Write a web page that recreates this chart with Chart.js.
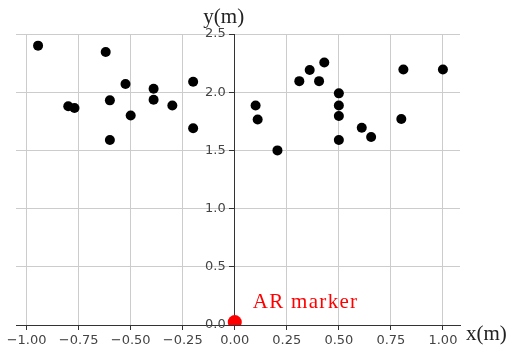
<!DOCTYPE html>
<html>
<head>
<meta charset="utf-8">
<script src="https://cdn.jsdelivr.net/npm/chart.js@4.4.0/dist/chart.umd.min.js"></script>
<style>
  html, body { margin: 0; padding: 0; background: #ffffff; }
  #wrap { width: 510px; height: 351px; position: relative; }
</style>
</head>
<body>
<div id="wrap"><canvas id="c"></canvas></div>
<script>
// ---- data ----
const pointsX = [-0.945, -0.80, -0.77, -0.62, -0.60, -0.60, -0.525, -0.50, -0.39, -0.39, -0.30, -0.20, -0.20,
                 0.10, 0.11, 0.205, 0.31, 0.36, 0.405, 0.43, 0.50, 0.50, 0.50, 0.50, 0.61, 0.655, 0.81, 0.80, 1.00];
const pointsY = [2.40, 1.88, 1.865, 2.345, 1.93, 1.59, 2.07, 1.80, 2.03, 1.935, 1.885, 2.09, 1.69,
                 1.885, 1.765, 1.50, 2.095, 2.19, 2.095, 2.255, 1.99, 1.885, 1.795, 1.59, 1.695, 1.615, 2.195, 1.77, 2.195];
const markerX = [0.0];
const markerY = [0.025];
const markerLabel = 'AR marker';
const xTicks = [-1.00, -0.75, -0.50, -0.25, 0.00, 0.25, 0.50, 0.75, 1.00];
const yTicks = [0.0, 0.5, 1.0, 1.5, 2.0, 2.5];
const xTitle = 'x(m)';
const yTitle = 'y(m)';

const tickFont = { family: '"DejaVu Sans", sans-serif', size: 13 };
const tickColor = '#444444';
const gridColor = '#cccccc';
const axisColor = '#333333';

// grid line hidden where it coincides with the other axis line
const gridAt = (ctx) => (ctx.tick && ctx.tick.value === 0 ? 'rgba(0,0,0,0)' : gridColor);

const textPlugin = {
  id: 'axisTexts',
  beforeDraw(chart) {
    // move the centred y-axis tick labels left of the tick marks
    const ys = chart.scales.y;
    const items = ys.getLabelItems(chart.chartArea);
    if (!ys._shifted) {
      items.forEach(it => { it.options.translation[0] -= 9; });
      ys._shifted = true;
    }
  },
  afterUpdate(chart) { if (chart.scales.y) chart.scales.y._shifted = false; },
  afterDraw(chart) {
    const ctx = chart.ctx;
    const xs = chart.scales.x, ys = chart.scales.y;
    const area = chart.chartArea;
    const x0 = xs.getPixelForValue(0);
    const y0 = ys.getPixelForValue(0);
    ctx.save();
    ctx.font = '21px "Liberation Serif", "Times New Roman", serif';
    ctx.fillStyle = '#222222';
    ctx.textBaseline = 'alphabetic';
    ctx.textAlign = 'center';
    ctx.fillText(yTitle, x0 - 11, area.top - 11);
    ctx.textAlign = 'left';
    ctx.fillText(xTitle, area.right + 6, area.bottom + 15);
    ctx.fillStyle = '#ff0000';
    try { ctx.letterSpacing = '1.3px'; } catch (e) {}
    ctx.fillText(markerLabel, x0 + 18, y0 - 17);
    ctx.restore();
  }
};

new Chart(document.getElementById('c'), {
  type: 'scatter',
  data: {
    datasets: [
      {
        data: pointsX.map((x, i) => ({ x: x, y: pointsY[i] })),
        backgroundColor: '#000000',
        borderColor: '#000000',
        pointRadius: 5,
        pointHoverRadius: 5,
        borderWidth: 0,
        clip: false
      },
      {
        data: markerX.map((x, i) => ({ x: x, y: markerY[i] })),
        backgroundColor: '#ff0000',
        borderColor: '#ff0000',
        pointRadius: 7,
        pointHoverRadius: 7,
        borderWidth: 0,
        clip: { left: 20, top: 20, right: 20, bottom: 0 }
      }
    ]
  },
  options: {
    responsive: true,
    maintainAspectRatio: false,
    animation: false,
    devicePixelRatio: 1,
    layout: { padding: { left: 16, right: 50, top: 34, bottom: 3 } },
    plugins: { legend: { display: false }, tooltip: { enabled: false } },
    scales: {
      x: {
        type: 'linear',
        position: 'bottom',
        min: -1.051,
        max: 1.082,
        afterBuildTicks: (s) => { s.ticks = xTicks.map(v => ({ value: v })); },
        afterFit: (s) => { s.height = 23; },
        grid: { color: gridAt, lineWidth: 1, tickColor: axisColor, tickLength: 5 },
        border: { display: true, color: axisColor, width: 1 },
        ticks: {
          font: tickFont, color: tickColor, padding: 3, maxRotation: 0, autoSkip: false,
          callback: (v) => (v < 0 ? '\u2212' + Math.abs(v).toFixed(2) : v.toFixed(2))
        }
      },
      y: {
        type: 'linear',
        position: { x: 0 },
        min: 0,
        max: 2.5,
        afterBuildTicks: (s) => { s.ticks = yTicks.map(v => ({ value: v })); },
        grid: { color: gridAt, lineWidth: 1, tickColor: axisColor, tickLength: 5 },
        border: { display: true, color: axisColor, width: 1 },
        ticks: {
          font: tickFont, color: tickColor, padding: 2, autoSkip: false,
          callback: (v) => v.toFixed(1)
        }
      }
    }
  },
  plugins: [textPlugin]
});
</script>
</body>
</html>
